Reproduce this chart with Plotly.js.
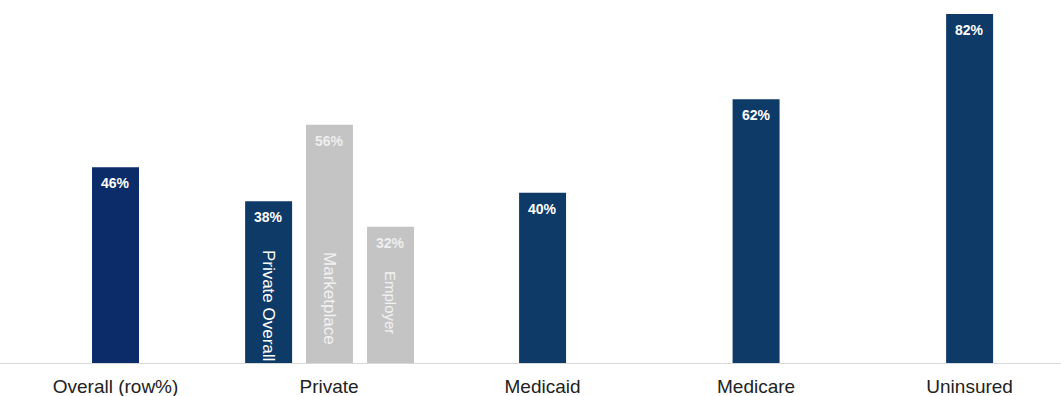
<!DOCTYPE html>
<html><head><meta charset="utf-8">
<script src="https://cdn.plot.ly/plotly-3.0.1.min.js"></script>
<style>html,body{margin:0;padding:0;background:#fff}#c{width:1061px;height:396px}</style>
</head><body><div id="c"></div>
<script>
const categories = ["Overall (row%)", "Private", "Medicaid", "Medicare", "Uninsured"];
const mainValues = [46, null, 40, 62, 82];
const privateLabels = ["Private Overall", "Marketplace", "Employer"];
const privateValues = [38, 56, 32];

const mainPos = [0, 2, 3, 4];
const mainVals = [mainValues[0], mainValues[2], mainValues[3], mainValues[4]];
const privOffsets = [-0.283, 0.002, 0.288];
const privPos = privOffsets.map(o => 1 + o);
const barW = 0.22;
const navy = "#0e3a68";
const font = "Liberation Sans, Arial, sans-serif";

const traces = [
  {
    type: "bar", x: mainPos, y: mainVals, width: barW,
    marker: {color: ["#0b2c69", navy, navy, navy]},
    hoverinfo: "none"
  },
  {
    type: "bar", x: privPos, y: privateValues, width: barW,
    marker: {color: [navy, "#c4c4c4", "#c4c4c4"]},
    hoverinfo: "none"
  }
];

const annotations = [];
mainPos.forEach((p, i) => annotations.push({
  x: p, y: mainVals[i], xref: "x", yref: "y", yanchor: "top", yshift: -6,
  text: "<b>" + mainVals[i] + "%</b>", showarrow: false,
  font: {family: font, size: 14, color: "#ffffff"}
}));
privPos.forEach((p, i) => annotations.push({
  x: p, y: privateValues[i], xref: "x", yref: "y", yanchor: "top", yshift: -6,
  text: "<b>" + privateValues[i] + "%</b>", showarrow: false,
  font: {family: font, size: 14, color: i === 0 ? "#ffffff" : "#eeeeee"}
}));
const vShift = [0, 16, 27];
const vSize = [17, 17, 15];
privateLabels.forEach((t, i) => annotations.push({
  x: privPos[i], y: 0, xref: "x", yref: "y", yanchor: "bottom",
  text: t, textangle: 90, showarrow: false,
  font: {family: font, size: vSize[i], color: i === 0 ? "#ffffff" : "#f2f2f2"},
  yshift: vShift[i]
}));

const layout = {
  width: 1061, height: 396,
  margin: {l: 0, r: 0, t: 0, b: 33},
  paper_bgcolor: "#ffffff", plot_bgcolor: "#ffffff",
  showlegend: false, barmode: "overlay",
  xaxis: {
    range: [-0.541, 4.428], tickvals: [0, 1, 2, 3, 4], ticktext: categories,
    showgrid: false, zeroline: false, showline: false, ticks: "",
    ticklabelstandoff: 10,
    tickfont: {family: font, size: 19, color: "#222222"}, fixedrange: true
  },
  yaxis: {
    range: [0, 85.3], visible: true, showticklabels: false, showgrid: false,
    zeroline: true, zerolinecolor: "#d9d9d9", zerolinewidth: 1, showline: false, ticks: ""
  },
  annotations: annotations
};

Plotly.newPlot("c", traces, layout, {displayModeBar: false, staticPlot: true});
</script>
</body></html>
